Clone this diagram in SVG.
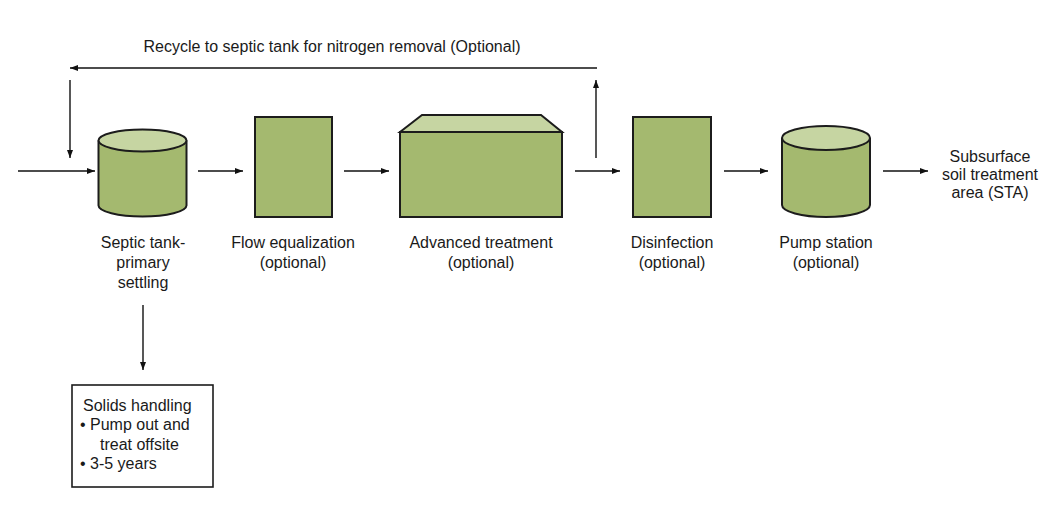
<svg xmlns="http://www.w3.org/2000/svg" width="1063" height="520" viewBox="0 0 1063 520">
<defs>
<marker id="ah" markerUnits="userSpaceOnUse" markerWidth="9" markerHeight="7" refX="8" refY="3" orient="auto">
<path d="M0,0 L8,3 L0,6 z" fill="#111"/>
</marker>
<style>
.body{fill:#a4b96f;stroke:#1c1c1c;stroke-width:2}
.top{fill:#c6d5a2;stroke:#1c1c1c;stroke-width:2}
.box{fill:#fff;stroke:#1c1c1c;stroke-width:1.6}
.c{fill:none;stroke:#111;stroke-width:1.4;marker-end:url(#ah)}
.l{stroke:#111;stroke-width:1.4;fill:none}
text{font-family:"Liberation Sans",Arial,sans-serif;font-size:16px;fill:#1a1a1a}
.m{text-anchor:middle}
</style>
</defs>
<rect width="1063" height="520" fill="#fff"/>
<text id="recycle-label" class="m" x="332" y="52">Recycle to septic tank for nitrogen removal (Optional)</text>
<g id="connectors">
<path class="c" d="M18,171 H95"/>
<path class="c" d="M198,171 H243"/>
<path class="c" d="M344,171 H389"/>
<path class="c" d="M575,171 H620"/>
<path class="c" d="M724,171 H768"/>
<path class="c" d="M883,171 H928"/>
<path class="c" d="M596,158 V80"/>
<path class="c" d="M597,68 H70"/>
<path class="c" d="M70,80 V158"/>
<path class="c" d="M143,305 V370"/>
</g>
<g id="septic-tank">
<path class="body" d="M98.5,140.5 V205.5 A44,11 0 0 0 186.5,205.5 V140.5"/>
<ellipse class="top" cx="142.5" cy="140.5" rx="44" ry="11"/>
<text class="m" x="143" y="248">Septic tank-</text>
<text class="m" x="143" y="268">primary</text>
<text class="m" x="143" y="288">settling</text>
</g>
<g id="flow-equalization">
<rect class="body" x="255" y="117" width="77" height="100"/>
<text class="m" x="293" y="248">Flow equalization</text>
<text class="m" x="293" y="268">(optional)</text>
</g>
<g id="advanced-treatment">
<path class="top" d="M400,132 L422,115 H541 L562,132 z"/>
<rect class="body" x="400" y="132" width="162" height="85"/>
<text class="m" x="481" y="248">Advanced treatment</text>
<text class="m" x="481" y="268">(optional)</text>
</g>
<g id="disinfection">
<rect class="body" x="633" y="117" width="78" height="100"/>
<text class="m" x="672" y="248">Disinfection</text>
<text class="m" x="672" y="268">(optional)</text>
</g>
<g id="pump-station">
<path class="body" d="M782,138 V205 A44,12 0 0 0 870,205 V138"/>
<ellipse class="top" cx="826" cy="138" rx="44" ry="12"/>
<text class="m" x="826" y="248">Pump station</text>
<text class="m" x="826" y="268">(optional)</text>
</g>
<g id="sta">
<text class="m" x="990" y="162">Subsurface</text>
<text class="m" x="990" y="180">soil treatment</text>
<text class="m" x="990" y="198">area (STA)</text>
</g>
<g id="solids-handling">
<rect class="box" x="72" y="385" width="141" height="102"/>
<text x="83" y="411">Solids handling</text>
<text x="80" y="430">• Pump out and</text>
<text x="100" y="450">treat offsite</text>
<text x="80" y="469">• 3-5 years</text>
</g>
</svg>
